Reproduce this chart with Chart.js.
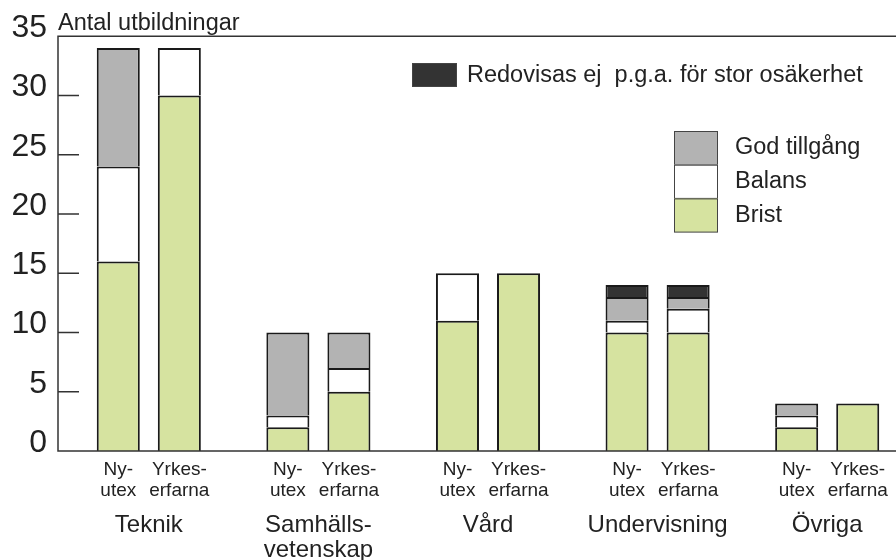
<!DOCTYPE html>
<html>
<head>
<meta charset="utf-8">
<script src="https://cdn.jsdelivr.net/npm/chart.js@4.4.1/dist/chart.umd.min.js"></script>
<style>
  html, body { margin: 0; padding: 0; background: #fff; overflow: hidden; }
  #wrap { width: 912px; height: 560px; }
</style>
</head>
<body>
<div id="wrap"><canvas id="myChart" width="912" height="560"></canvas></div>
<script>
// groups (x axis) and the two bars in each group
const groups = [['Teknik'], ['Samhälls-', 'vetenskap'], ['Vård'], ['Undervisning'], ['Övriga']];
const stacks = ['ny', 'yrkes'];
const stackLabels = [['Ny-', 'utex'], ['Yrkes-', 'erfarna']];

// number of educations per assessment (null = no segment)
const bristNy = [16, 2, 11, 10, 2];
const bristYrkes = [30, 5, 15, 10, 4];
const balansNy = [8, 1, 4, 1, 1];
const balansYrkes = [4, 2, null, 2, null];
const godNy = [10, 7, null, 2, 1];
const godYrkes = [null, 3, null, 1, null];
const redovNy = [null, null, null, 1, null];
const redovYrkes = [null, null, null, 1, null];

const seriesNames = ['Brist', 'Balans', 'God tillgång', 'Redovisas ej  p.g.a. för stor osäkerhet'];
const seriesColors = ['#d6e3a0', '#ffffff', '#b3b3b3', '#333333'];
const yTitle = 'Antal utbildningar';
const yMax = 35;
const yStep = 5;

const FONT = '"Liberation Sans", Arial, sans-serif';
Chart.defaults.font.family = FONT;
Chart.defaults.color = '#222';

const seriesData = [[bristNy, bristYrkes], [balansNy, balansYrkes], [godNy, godYrkes], [redovNy, redovYrkes]];
let datasets = [];
seriesData.forEach((pair, s) => {
    pair.forEach((vals, k) => {
        datasets.push({
            label: seriesNames[s],
            data: vals,
            stack: stacks[k],
            backgroundColor: seriesColors[s],
            borderColor: '#1a1a1a',
            borderWidth: 2,
            borderSkipped: 'start',
            categoryPercentage: 0.72,
            barPercentage: 0.705
        });
    });
});

// the frame in the reference sits a little left of the first slot
const AXIS_INSET = 6;

const frameAndLabels = {
    id: 'frameAndLabels',
    afterDraw(chart) {
        const ctx = chart.ctx;
        const a = chart.chartArea;
        const y = chart.scales.y;
        const axisX = a.left - AXIS_INSET;
        ctx.save();
        ctx.strokeStyle = '#333';
        ctx.lineWidth = 1.5;
        ctx.beginPath();
        ctx.moveTo(a.right, a.top);
        ctx.lineTo(axisX, a.top);
        ctx.lineTo(axisX, a.bottom);
        ctx.lineTo(a.right, a.bottom);
        y.ticks.forEach(t => {
            if (t.value > 0 && t.value < yMax) {
                const py = y.getPixelForValue(t.value);
                ctx.moveTo(axisX, py);
                ctx.lineTo(axisX + 21, py);
            }
        });
        ctx.stroke();

        ctx.fillStyle = '#222';
        ctx.textAlign = 'left';
        ctx.textBaseline = 'alphabetic';
        ctx.font = '23.5px ' + FONT;
        ctx.fillText(yTitle, axisX, a.top - 6);

        // Ny-utex / Yrkes-erfarna under each bar
        ctx.font = '19px ' + FONT;
        ctx.textAlign = 'center';
        stacks.forEach((st, k) => {
            chart.getDatasetMeta(k).data.forEach(bar => {
                stackLabels[k].forEach((line, j) => {
                    ctx.fillText(line, bar.x, a.bottom + 24 + j * 21);
                });
            });
        });

        // legend
        ctx.font = '23.5px ' + FONT;
        ctx.textAlign = 'left';
        ctx.textBaseline = 'middle';
        ctx.lineWidth = 1;
        ctx.strokeStyle = '#444';
        ctx.fillStyle = seriesColors[3];
        ctx.fillRect(412, 63, 45, 24);
        ctx.strokeRect(412.5, 63.5, 44, 23);
        ctx.fillStyle = '#222';
        ctx.fillText(seriesNames[3], 467, 76);
        [2, 1, 0].forEach((s, i) => {
            const top = 131 + i * 33.7;
            ctx.fillStyle = seriesColors[s];
            ctx.fillRect(674, top, 44, 33.7);
            ctx.strokeRect(674.5, top + 0.5, 43, 33.2);
            ctx.fillStyle = '#222';
            ctx.fillText(seriesNames[s], 735, top + 17);
        });
        ctx.restore();
    }
};

const ctx = document.getElementById('myChart').getContext('2d');
const myChart = new Chart(ctx, {
    type: 'bar',
    data: {
        labels: groups,
        datasets: datasets
    },
    options: {
        responsive: false,
        animation: false,
        devicePixelRatio: 1,
        layout: { padding: { top: 34, left: 0, right: 0, bottom: 0 } },
        plugins: {
            legend: { display: false },
            tooltip: { enabled: false }
        },
        scales: {
            x: {
                stacked: true,
                grid: { display: false, drawTicks: false },
                border: { display: false },
                ticks: { font: { size: 24, lineHeight: 1.05 }, color: '#222', padding: 62, maxRotation: 0, autoSkip: false },
                afterFit: s => { s.height = 109; s.paddingLeft = 0; s.paddingRight = 0; }
            },
            y: {
                stacked: true,
                min: 0,
                max: yMax,
                grid: { display: false, drawTicks: false },
                border: { display: false },
                ticks: { stepSize: yStep, font: { size: 32 }, color: '#222', padding: 17, labelOffset: -8 },
                afterFit: s => { s.width = 64; }
            }
        }
    },
    plugins: [frameAndLabels]
});
</script>
</body>
</html>
